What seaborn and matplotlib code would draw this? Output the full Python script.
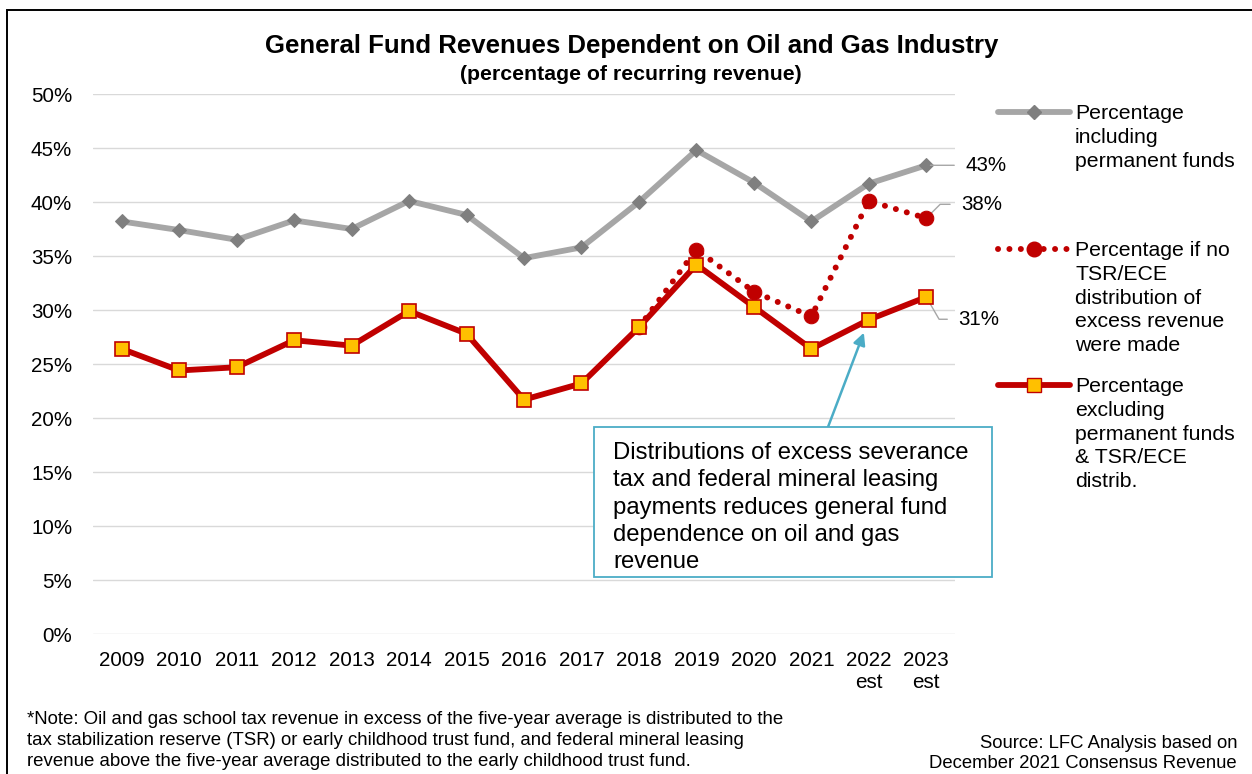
import matplotlib
matplotlib.use("Agg")
import matplotlib.pyplot as plt
from matplotlib.lines import Line2D
from matplotlib.patches import Rectangle
from matplotlib.ticker import FuncFormatter, MultipleLocator
import pandas as pd
import seaborn as sns

# ---- data ----------------------------------------------------------------
years = list(range(2009, 2024))
year_labels = [str(y) for y in range(2009, 2022)] + ["2022\nest", "2023\nest"]
pct_incl_perm = [38.2, 37.4, 36.5, 38.3, 37.5, 40.1, 38.8, 34.8, 35.8, 40.0,
                 44.8, 41.8, 38.2, 41.7, 43.4]
pct_excl_perm = [26.4, 24.4, 24.7, 27.2, 26.7, 29.9, 27.8, 21.7, 23.2, 28.4,
                 34.2, 30.3, 26.4, 29.1, 31.2]
no_dist_years = list(range(2018, 2024))
pct_no_dist = [28.4, 35.6, 31.7, 29.4, 40.1, 38.5]

end_labels = ["43%", "38%", "31%"]
legend_labels = [
    "Percentage\nincluding\npermanent funds",
    "Percentage if no\nTSR/ECE\ndistribution of\nexcess revenue\nwere made",
    "Percentage\nexcluding\npermanent funds\n& TSR/ECE\ndistrib.",
]
title = "General Fund Revenues Dependent on Oil and Gas Industry"
subtitle = "(percentage of recurring revenue)"
callout = ("Distributions of excess severance\ntax and federal mineral leasing\n"
           "payments reduces general fund\ndependence on oil and gas\nrevenue")
note = ("*Note: Oil and gas school tax revenue in excess of the five-year average is distributed to the\n"
        "tax stabilization reserve (TSR) or early childhood trust fund, and federal mineral leasing\n"
        "revenue above the five-year average distributed to the early childhood trust fund.")
source = "Source: LFC Analysis based on\nDecember 2021 Consensus Revenue"

df = pd.DataFrame({"year": years, "incl": pct_incl_perm, "excl": pct_excl_perm})
df_nd = pd.DataFrame({"year": no_dist_years, "nodist": pct_no_dist})

GRAY, GRAY_MK = "#a6a6a6", "#7f7f7f"
RED, GOLD, TEAL = "#c00000", "#ffc000", "#4bacc6"
DOTS = (0, (0.01, 1.9))

sns.set_style("white")
plt.rcParams["font.family"] = ["Liberation Sans", "DejaVu Sans"]
plt.rcParams.update({"text.color": "black", "xtick.color": "black",
                     "ytick.color": "black", "xtick.labelcolor": "black",
                     "ytick.labelcolor": "black"})

W, H = 1252, 774
fig = plt.figure(figsize=(W / 100, H / 100), dpi=100)


def fx(px):
    return px / W


def fy(py):
    return 1 - py / H


ax = fig.add_axes([fx(93), fy(634), (955 - 93) / W, (634 - 94) / H])

sns.lineplot(data=df, x="year", y="incl", color=GRAY, lw=4.2, marker="D",
             markersize=7, markerfacecolor=GRAY_MK, markeredgecolor=GRAY_MK, ax=ax, zorder=3)
sns.lineplot(data=df_nd, x="year", y="nodist", color=RED, lw=4.3,
             linestyle=DOTS, dash_capstyle="round", marker="o",
             markersize=10.5, markerfacecolor=RED, markeredgecolor=RED, ax=ax, zorder=4)
sns.lineplot(data=df, x="year", y="excl", color=RED, lw=4.2, marker="s",
             markersize=9.5, markerfacecolor=GOLD, markeredgecolor=RED,
             markeredgewidth=1.2, ax=ax, zorder=5)

ax.set_xlim(2008.5, 2023.5)
ax.set_ylim(0, 50)
ax.yaxis.set_major_locator(MultipleLocator(5))
ax.yaxis.set_major_formatter(FuncFormatter(lambda v, p: f"{v:.0f}%"))
ax.set_xticks(years)
ax.set_xticklabels(year_labels)
ax.tick_params(axis="x", length=0, pad=12, labelsize=14.9)
ax.tick_params(axis="y", length=0, pad=15, labelsize=14.8)
ax.set_xlabel("")
ax.set_ylabel("")
ax.grid(True, axis="y", color="#d9d9d9", lw=1)
ax.set_axisbelow(True)
for s in ax.spines.values():
    s.set_visible(False)

# ---- end-of-series labels with leader lines ------------------------------
lead = dict(arrowstyle="-", color=GRAY, lw=1, relpos=(0, 0.5), shrinkA=5.5, shrinkB=3)
ax.annotate(end_labels[0], xy=(years[-1], pct_incl_perm[-1]), xytext=(28, 0),
            textcoords="offset points", va="center", ha="left", fontsize=14.8,
            arrowprops=lead)
ax.annotate(end_labels[1], xy=(no_dist_years[-1], pct_no_dist[-1]), xytext=(25, 10),
            textcoords="offset points", va="center", ha="left", fontsize=14.8,
            arrowprops=dict(lead, connectionstyle="angle,angleA=0,angleB=45,rad=0"))
ax.annotate(end_labels[2], xy=(years[-1], pct_excl_perm[-1]), xytext=(23, -16),
            textcoords="offset points", va="center", ha="left", fontsize=14.8,
            arrowprops=dict(lead, connectionstyle="angle,angleA=0,angleB=-60,rad=0"))

# ---- callout box + arrow -------------------------------------------------
fig.add_artist(Rectangle((fx(594), fy(577)), (992 - 594) / W, (577 - 427) / H,
                         transform=fig.transFigure, facecolor="white",
                         edgecolor=TEAL, lw=1.3, zorder=5))
fig.text(fx(613), fy(442), callout, ha="left", va="top", fontsize=17.2,
         linespacing=1.31, zorder=6)
ax.annotate("", xy=(2022, pct_excl_perm[-2]), xytext=(fx(828), fy(427)),
            textcoords="figure fraction",
            arrowprops=dict(arrowstyle="-|>", color=TEAL, lw=1.8, mutation_scale=18,
                            shrinkA=0, shrinkB=10))

# ---- legend drawn by hand (handle aligned with first text line) ----------
leg_y = [112, 249, 385]
handles = [
    dict(color=GRAY, lw=4.2, ls="-", marker="D", ms=7, mfc=GRAY_MK, mec=GRAY_MK),
    dict(color=RED, lw=4.3, ls=DOTS, marker="o", ms=10.5, mfc=RED, mec=RED),
    dict(color=RED, lw=4.2, ls="-", marker="s", ms=9.5, mfc=GOLD, mec=RED),
]
for y, h, lab in zip(leg_y, handles, legend_labels):
    ln = Line2D([fx(998), fx(1070)], [fy(y)] * 2, transform=fig.transFigure,
                color=h["color"], lw=h["lw"], ls=h["ls"], dash_capstyle="round",
                solid_capstyle="round")
    mk = Line2D([fx(1034)], [fy(y)], transform=fig.transFigure, ls="none",
                marker=h["marker"], ms=h["ms"], mfc=h["mfc"], mec=h["mec"])
    fig.add_artist(ln)
    fig.add_artist(mk)
    fig.text(fx(1075), fy(y - 8), lab, ha="left", va="top", fontsize=15.3,
             linespacing=1.32)

# ---- titles, notes, frame -------------------------------------------------
fig.text(fx(632), fy(46), title, ha="center", va="center", fontsize=18.5,
         fontweight="bold")
fig.text(fx(631), fy(74), subtitle, ha="center", va="center", fontsize=15.3,
         fontweight="bold")
fig.text(fx(27), fy(711), note, ha="left", va="top", fontsize=13.4, linespacing=1.31)
fig.text(fx(1237), fy(735), source, ha="right", va="top", fontsize=13.3,
         multialignment="right", linespacing=1.25)
fig.add_artist(Rectangle((fx(7), fy(800)), (1300 - 7) / W, (800 - 10) / H,
                         transform=fig.transFigure, fill=False, edgecolor="black",
                         lw=1.4, clip_on=False))

fig.savefig("out.png", dpi=100)
